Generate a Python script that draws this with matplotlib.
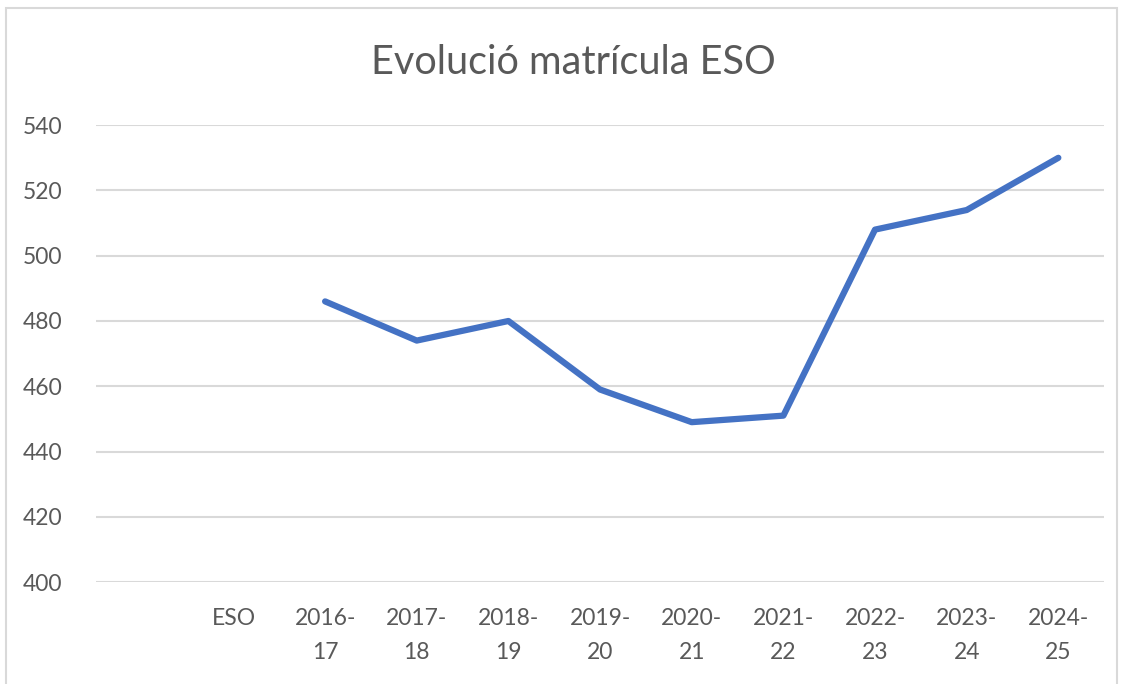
import matplotlib.pyplot as plt
from matplotlib.patches import Rectangle

categories = ["ESO", "2016-\n17", "2017-\n18", "2018-\n19", "2019-\n20",
              "2020-\n21", "2021-\n22", "2022-\n23", "2023-\n24", "2024-\n25"]
# first category (ESO) has no value
values = [None, 486, 474, 480, 459, 449, 451, 508, 514, 530]
yticks = [400, 420, 440, 460, 480, 500, 520, 540]

plt.rcParams['font.family'] = ['Lato', 'DejaVu Sans']

fig = plt.figure(figsize=(11.29, 6.84), dpi=100)
ax = fig.add_axes([0.085, 0.149, 0.893, 0.668])

xs = [i for i, v in enumerate(values) if v is not None]
ys = [v for v in values if v is not None]
ax.plot(xs, ys, color="#4472C4", linewidth=4.5, solid_capstyle="round",
        solid_joinstyle="round", zorder=3)

ax.set_xlim(-1.5, len(categories) - 0.5)
ax.set_ylim(400, 540)
ax.set_yticks(yticks)
ax.set_xticks(range(len(categories)))
ax.set_xticklabels(categories, linespacing=1.75)
ax.tick_params(axis="both", length=0, colors="#595959", labelsize=16.5)
ax.tick_params(axis="x", pad=19)
ax.tick_params(axis="y", pad=24)
ax.grid(axis="y", color="#D9D9D9", linewidth=1.5)
for s in ax.spines.values():
    s.set_visible(False)

fig.text(0.5075, 0.908, "Evolució matrícula ESO", ha="center", va="center",
         fontsize=28.5, color="#595959")

fig.patches.append(Rectangle((6 / 1129, -0.01), 1111 / 1129, 1 - 8 / 684 + 0.01,
                             transform=fig.transFigure, fill=False,
                             edgecolor="#D9D9D9", linewidth=1.5))

fig.savefig("out.png", dpi=100)
